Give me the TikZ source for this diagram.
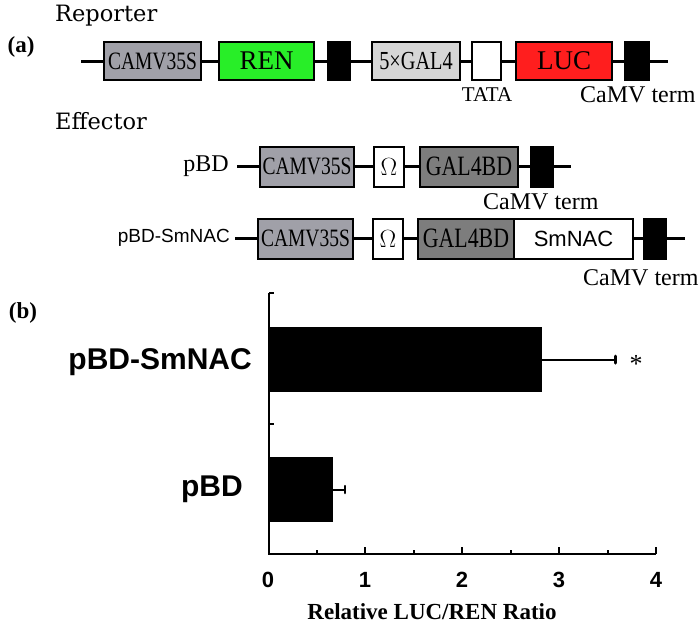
\documentclass[tikz,border=0pt]{standalone}
\usepackage{fontspec}
\setmainfont{Liberation Serif}
\setsansfont{Liberation Sans}
\newfontfamily\condserif[FakeStretch=0.78]{Liberation Serif}
\newfontfamily\wideserif{DejaVu Serif}
\newcommand\fsz[1]{\fontsize{#1}{#1}\selectfont}
\definecolor{camv}{RGB}{160,160,168}
\definecolor{rengreen}{RGB}{40,238,40}
\definecolor{galgray}{RGB}{214,214,214}
\definecolor{lucred}{RGB}{255,30,30}
\definecolor{bdgray}{RGB}{125,125,125}
\begin{document}
\begin{tikzpicture}[x=1pt,y=-1pt,
  gbox/.style={draw, line width=2pt, inner sep=0pt, anchor=west, text=black},
  rrow/.style={gbox, minimum height=38pt},
  erow/.style={gbox, minimum height=40pt},
  backbone/.style={line width=3pt},
  headlbl/.style={font=\wideserif\fsz{22.5}, anchor=base west, inner sep=0pt},
  panel/.style={font=\bfseries\fsz{23}, inner sep=0pt},
  termlbl/.style={font=\fsz{24}, anchor=base west, inner sep=0pt},
  axisline/.style={line width=2.5pt},
  errline/.style={line width=2pt},
  barfill/.style={fill=black},
  ticklbl/.style={font=\sffamily\bfseries\fsz{22}, inner sep=0pt},
  catlbl/.style={font=\sffamily\bfseries\fsz{30}, anchor=east, inner sep=0pt}
]
\useasboundingbox (0,0) rectangle (700,627);

% ---------- headings ----------
\node[headlbl] (rep) at (55,21) {Reporter};
\node[panel] (pa) at (21,47) {(a)};
\node[headlbl] (eff) at (55,129) {Effector};

% ---------- Reporter ----------
\coordinate (r0) at (81,61);
\coordinate (r9) at (668,61);
\draw[backbone] (r0) -- (r9);
\node[rrow, fill=camv, minimum width=97pt, font=\condserif\fsz{25}] (rc) at (103,61) {CAMV35S};
\node[rrow, fill=rengreen, minimum width=95pt, font=\fsz{27}] (rren) at (218,61) {REN};
\node[rrow, fill=black, minimum width=22pt] (rt1) at (327,61) {};
\node[rrow, fill=galgray, minimum width=88pt, font=\condserif\fsz{26}] (rgal) at (371,61) {5×GAL4};
\node[rrow, fill=white, minimum width=29pt] (rtata) at (471,61) {};
\node[rrow, fill=lucred, minimum width=96pt, font=\fsz{27}] (rluc) at (515,61) {LUC};
\node[rrow, fill=black, minimum width=24pt] (rt2) at (624,61) {};
\node[font=\fsz{21}, anchor=base, inner sep=0pt] (tata) at (487,101) {TATA};
\node[termlbl] (term1) at (580,102) {CaMV term};

% ---------- Effector pBD ----------
\node[font=\fsz{24}, anchor=east, inner sep=0pt] (lbd) at (229,166) {pBD};
\coordinate (b0) at (237,166.5);
\coordinate (b9) at (571,166.5);
\draw[backbone] (b0) -- (b9);
\node[erow, fill=camv, minimum width=94pt, font=\condserif\fsz{25}] (bc) at (259,166.5) {CAMV35S};
\node[erow, fill=white, minimum width=30pt, font=\fsz{26}] (bo) at (373,166.5) {$\Omega$};
\node[erow, fill=bdgray, minimum width=98pt, font=\condserif\fsz{28}] (bg) at (419,166.5) {GAL4BD};
\node[erow, fill=black, minimum width=22pt] (bt) at (530,166.5) {};
\node[termlbl] (term2) at (483,209) {CaMV term};

% ---------- Effector pBD-SmNAC ----------
\node[font=\sffamily\fsz{19}, anchor=east, inner sep=0pt] (lsm) at (230,238) {pBD-SmNAC};
\coordinate (s0) at (235,238.5);
\coordinate (s9) at (685,238.5);
\draw[backbone] (s0) -- (s9);
\node[erow, fill=camv, minimum width=95pt, font=\condserif\fsz{25}] (sc) at (257,238.5) {CAMV35S};
\node[erow, fill=white, minimum width=30pt, font=\fsz{26}] (so) at (372,238.5) {$\Omega$};
\node[erow, fill=bdgray, minimum width=96pt, font=\condserif\fsz{28}] (sg) at (417,238.5) {GAL4BD};
\node[erow, fill=white, minimum width=119pt, font=\sffamily\fsz{22}] (snac) at (513,238.5) {SmNAC};
\node[erow, fill=black, minimum width=22pt] (st) at (643,238.5) {};
\node[termlbl] (term3) at (583,285) {CaMV term};

% ---------- Panel (b) chart ----------
\node[panel] (pb) at (23,313) {(b)};
\coordinate (origin) at (269,554);
\coordinate (ytop) at (269,293);
\coordinate (xend) at (656,554);
\fill[barfill] (269,327) rectangle (542,392);
\fill[barfill] (269,457) rectangle (333,522);
\draw[axisline] (ytop) -- (origin) -- (xend);
\draw[axisline] (ytop) -- ++(5,0);
\draw[axisline] (269,424) -- ++(5,0);
\foreach \k in {1,...,8} {
  \pgfmathsetmacro\xx{268+48.5*\k}
  \ifodd\k
    \draw[line width=2pt] (\xx,554) -- ++(0,-4);
  \else
    \draw[line width=2pt] (\xx,554) -- ++(0,-7);
  \fi
}
\foreach \v in {0,...,4} {
  \node[ticklbl] (t\v) at ({268+97*\v},580) {\v};
}
% error bars
\coordinate (e1a) at (542,359.5);
\coordinate (e1b) at (615,359.5);
\draw[errline] (e1a) -- (e1b);
\draw[line width=3pt, line cap=round] (615,356) -- (615,363);
\coordinate (e2a) at (333,489.5);
\coordinate (e2b) at (345,489.5);
\draw[errline] (e2a) -- (e2b);
\draw[line width=2.5pt, line cap=round] (345,486) -- (345,493);
\node[font=\fsz{26}, inner sep=0pt] (star) at (636,364) {*};
\node[catlbl] (csm) at (252,362) {pBD-SmNAC};
\node[catlbl] (cbd) at (243,489) {pBD};
\node[font=\bfseries\fsz{23}, inner sep=0pt] (xt) at (432,612) {Relative LUC/REN Ratio};
\end{tikzpicture}
\end{document}
